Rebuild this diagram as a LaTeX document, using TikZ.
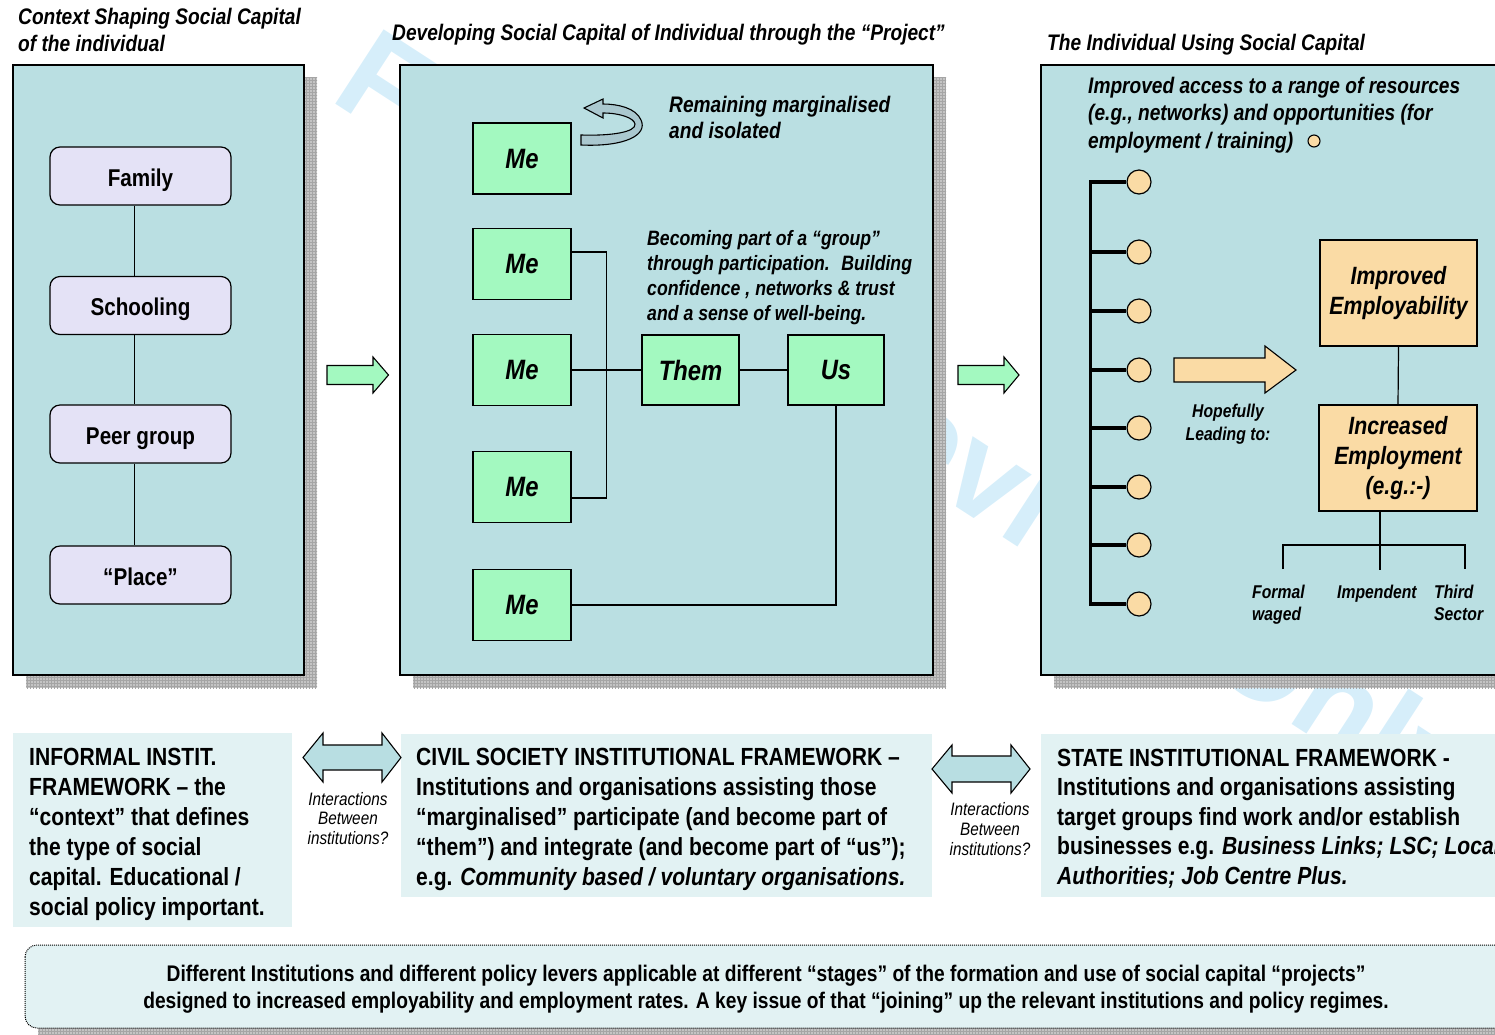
\documentclass[tikz,border=0pt]{standalone}
\usepackage{fontspec}
\setmainfont{Liberation Sans}[FakeStretch=0.85]
\newfontfamily\wmfont{Liberation Sans}
\usetikzlibrary{patterns}
\definecolor{panel}{RGB}{186,223,226}
\definecolor{meg}{RGB}{163,249,192}
\definecolor{lav}{RGB}{228,226,246}
\definecolor{org}{RGB}{250,219,165}
\definecolor{pale}{RGB}{226,242,243}
\definecolor{wm}{RGB}{214,238,250}
\definecolor{shad}{RGB}{196,196,196}
\definecolor{gridc}{RGB}{165,165,165}
\definecolor{arr}{RGB}{184,222,226}
\definecolor{curv}{RGB}{170,200,207}
\tikzset{
  shadowbox/.style={fill=shad},
  shadowgrid/.style={pattern=grid, pattern color=gridc},
  panelbox/.style={draw=black, line width=1.3pt, fill=panel},
  lavbox/.style={draw, line width=1.2pt, fill=lav, rounded corners=10pt, minimum width=181pt, minimum height=58pt, font=\fontsize{24.3}{28}\selectfont\bfseries, inner sep=0pt, text height=20pt, text depth=0pt},
  mebox/.style={draw, line width=1.3pt, fill=meg, minimum width=98pt, minimum height=71pt, font=\fontsize{28}{30}\selectfont\bfseries\itshape, inner sep=0pt},
  orgbox/.style={draw, line width=1.3pt, fill=org, minimum width=157pt, minimum height=106pt, font=\fontsize{25}{30}\selectfont\bfseries\itshape, align=center, inner sep=0pt},
  dot/.style={circle, draw, line width=1.2pt, fill=org, minimum size=24pt, inner sep=0pt},
  smalldot/.style={circle, draw, line width=1.1pt, fill=org, minimum size=12pt, inner sep=0pt},
  conn/.style={line width=1.2pt},
  blockarrow/.style={draw, line width=1.1pt, line join=miter},
  hd/.style={font=\fontsize{22.5}{27.5}\selectfont\bfseries\itshape, align=left, inner sep=0pt, anchor=base west},
  note/.style={font=\fontsize{20.8}{25}\selectfont\bfseries\itshape, align=left, inner sep=0pt, anchor=base west},
  small/.style={font=\fontsize{18.5}{22.5}\selectfont\bfseries\itshape, inner sep=0pt},
  inter/.style={font=\fontsize{18}{19.5}\selectfont\itshape, align=center, inner sep=0pt, anchor=base},
  boxtext/.style={font=\fontsize{24.8}{30}\selectfont\bfseries, align=left, inner sep=0pt, anchor=base west},
  foot/.style={font=\fontsize{22.6}{27}\selectfont\bfseries, align=center, inner sep=0pt, anchor=base}
}
\begin{document}
\begin{tikzpicture}[x=1pt,y=-1pt]
\useasboundingbox (0,0) rectangle (1495,1034);
% watermark
\node[font=\wmfont\fontsize{129}{129}\selectfont\bfseries, text=wm, rotate=-33, anchor=base west, inner sep=0pt] (wmk) at (328,99) {For Peer Review Only};

% titles (base anchor = last line)
\node[hd] (t1) at (18,51.5) {Context Shaping Social Capital\\of the individual};
\node[hd] (t2) at (392,40) {Developing Social Capital of Individual through the “Project”};
\node[hd] (t3) at (1047,50) {The Individual Using Social Capital};

% panels with shadows
\fill[shadowbox] (26,77) rectangle (317,688);
\fill[shadowgrid] (26,77) rectangle (317,688);
\draw[panelbox] (13,65) rectangle (304,675);
\fill[shadowbox] (413,77) rectangle (946,688);
\fill[shadowgrid] (413,77) rectangle (946,688);
\draw[panelbox] (400,65) rectangle (933,675);
\fill[shadowbox] (1054,77) rectangle (1543,688);
\fill[shadowgrid] (1054,77) rectangle (1543,688);
\draw[panelbox] (1041,65) rectangle (1530,675);

% left panel
\node[lavbox] (fam) at (140.5,176) {Family};
\node[lavbox] (sch) at (140.5,305.5) {Schooling};
\node[lavbox] (peer) at (140.5,434) {Peer group};
\node[lavbox] (plc) at (140.5,575) {“Place”};
\draw[conn] ([xshift=-6pt]fam.south) -- ([xshift=-6pt]sch.north);
\draw[conn] ([xshift=-6pt]sch.south) -- ([xshift=-6pt]peer.north);
\draw[conn] ([xshift=-6pt]peer.south) -- ([xshift=-6pt]plc.north);

% arrows between panels
\draw[blockarrow, fill=meg] (327,365.5) -- (373,365.5) -- (373,357) -- (388.5,375) -- (373,393) -- (373,384.5) -- (327,384.5) -- cycle;
\draw[blockarrow, fill=meg] (958,365.5) -- (1004,365.5) -- (1004,357) -- (1019,375) -- (1004,393) -- (1004,384.5) -- (958,384.5) -- cycle;

% middle panel
\node[mebox] (me1) at (522,158.5) {Me};
\node[mebox] (me2) at (522,264) {Me};
\node[mebox] (me3) at (522,370) {Me};
\node[mebox] (me4) at (522,487) {Me};
\node[mebox] (me5) at (522,605) {Me};
\node[mebox, minimum width=97pt, minimum height=70pt] (them) at (690.5,370) {Them};
\node[mebox, minimum width=96pt, minimum height=70pt] (us) at (836,370) {Us};
\draw[conn] ([yshift=12pt]me2.east) -- ++(35,0) |- ([yshift=-11pt]me4.east);
\draw[conn] (me3.east) -- (them.west);
\draw[conn] (them.east) -- (us.west);
\draw[conn] (us.south) |- (me5.east);
% curved U-turn arrow
\draw[line width=1.1pt, fill=curv, line join=miter] (581,135) -- (581,145)
  .. controls (625,147) and (648,135) .. (641,120)
  .. controls (636,108) and (618,104) .. (603,104)
  -- (603,99) -- (584,108) -- (603,118) -- (603,113)
  .. controls (620,113) and (634,118) .. (635,124)
  .. controls (636,132) and (612,136) .. (581,135) -- cycle;
\node[hd, font=\fontsize{22.5}{26}\selectfont\bfseries\itshape] (rem) at (669,138) {Remaining marginalised\\and isolated};
\node[note] (bec) at (647,320) {Becoming part of a “group”\\through participation.~ Building\\confidence , networks \& trust\\and a sense of well-being.};

% right panel
\node[hd] (acc) at (1088,148) {Improved access to a range of resources\\(e.g., networks) and opportunities (for\\employment / training)};
\node[smalldot] (sd) at (1314,141) {};
\coordinate (bt) at (1090,180);
\coordinate (bb) at (1090,606);
\draw[line width=3pt] (bt) -- (bb);
\foreach \i/\yy in {1/182,2/252,3/311,4/370,5/428,6/487,7/545,8/604}{
  \node[dot] (c\i) at (1139,\yy) {};
  \draw[line width=4.5pt] (c\i.west -| bt) -- (c\i.west);
}
\draw[blockarrow, fill=org] (1174,358) -- (1265,358) -- (1265,346) -- (1296,370) -- (1265,393) -- (1265,382) -- (1174,382) -- cycle;
\node[small, align=center, anchor=base] (hop) at (1228,440) {Hopefully\\Leading to:};
\node[orgbox] (emp1) at (1398.5,293) {Improved\\Employability};
\node[orgbox, minimum width=158pt] (emp2) at (1398,458) {Increased\\Employment\\(e.g.:-)};
\draw[conn] (emp1.south) -- (emp2.north);
\coordinate (jn) at (1380,545);
\coordinate (d1) at (1283,569);
\coordinate (d3) at (1465,569);
\draw[conn] (emp2.south -| jn) -- ++(0,58);
\draw[conn] (d1) |- (jn) -| (d3);
\node[small, align=left, anchor=base west, font=\fontsize{18.5}{22}\selectfont\bfseries\itshape] (fw) at (1252,620) {Formal\\waged};
\node[small, anchor=base west] (imp) at (1337,598) {Impendent};
\node[small, align=left, anchor=base west, font=\fontsize{18.5}{22}\selectfont\bfseries\itshape] (ts) at (1434,620) {Third\\Sector};

% bottom boxes
\fill[pale] (13,733) rectangle (292,927);
\fill[pale] (401,734) rectangle (932,897);
\fill[pale] (1041,734) rectangle (1530,897);
\node[boxtext] (ba) at (29,915) {INFORMAL INSTIT.\\FRAMEWORK – the\\“context” that defines\\the type of social\\capital. Educational /\\social policy important.};
\node[boxtext] (bbx) at (416,885) {CIVIL SOCIETY INSTITUTIONAL FRAMEWORK –\\Institutions and organisations assisting those\\“marginalised” participate (and become part of\\“them”) and integrate (and become part of “us”);\\e.g. \textit{Community based / voluntary organisations.}};
\node[boxtext, font=\fontsize{24.8}{29.5}\selectfont\bfseries] (bc) at (1057,884) {STATE INSTITUTIONAL FRAMEWORK -\\Institutions and organisations assisting\\target groups find work and/or establish\\businesses e.g. \textit{Business Links; LSC; Local}\\\textit{Authorities; Job Centre Plus.}};
\draw[blockarrow, fill=arr] (303,757.5) -- (323,733) -- (323,745) -- (382,745) -- (382,733) -- (401,757.5) -- (382,782) -- (382,770) -- (323,770) -- (323,782) -- cycle;
\draw[blockarrow, fill=arr] (932,769) -- (952,745) -- (952,756) -- (1011,756) -- (1011,745) -- (1030,769) -- (1011,793) -- (1011,782) -- (952,782) -- (952,793) -- cycle;
\node[inter] (ia) at (348,844) {Interactions\\Between\\institutions?};
\node[inter, font=\fontsize{18}{20}\selectfont\itshape] (ib) at (990,855) {Interactions\\Between\\institutions?};

% footer note
\fill[shadowbox] (38,958) rectangle (1543,1041);
\fill[shadowgrid] (38,958) rectangle (1543,1041);
\draw[densely dotted, line width=1pt, fill=pale, rounded corners=12pt] (25,945) rectangle (1530,1028);
\node[foot] (ft) at (766,1008) {Different Institutions and different policy levers applicable at different “stages” of the formation and use of social capital “projects”\\designed to increased employability and employment rates. A key issue of that “joining” up the relevant institutions and policy regimes.};
\end{tikzpicture}
\end{document}
